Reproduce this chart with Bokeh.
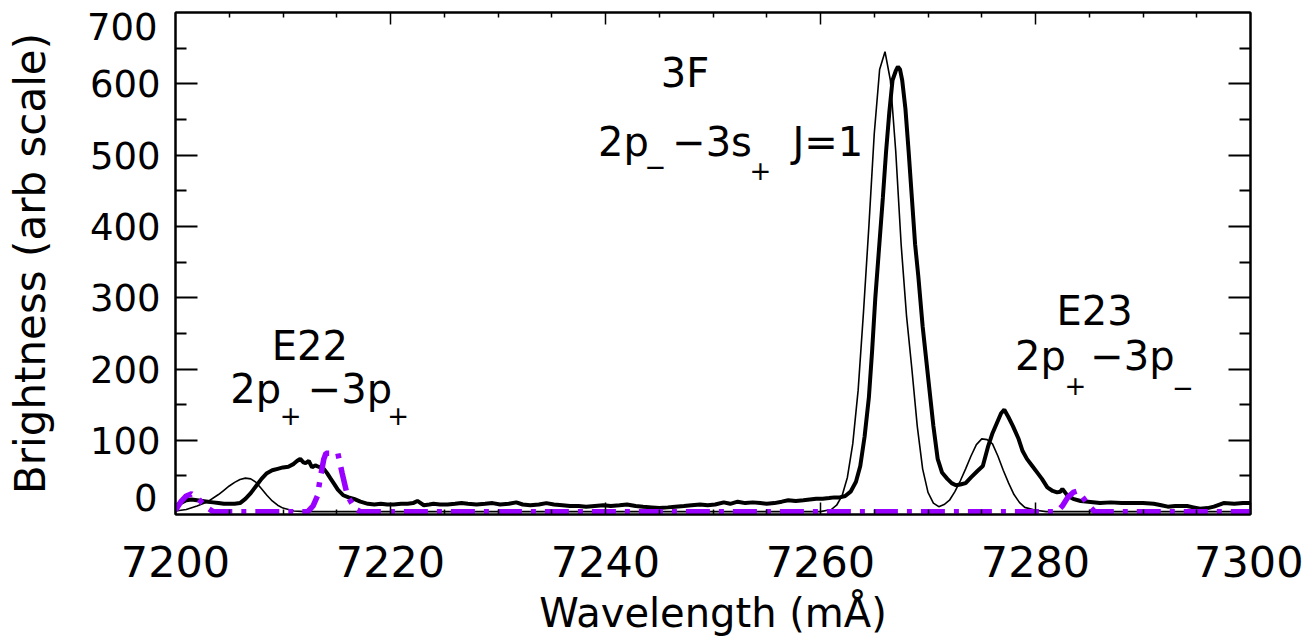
from bokeh.plotting import figure
from bokeh.models import LinearAxis, Label, FixedTicker, Range1d
from bokeh.embed import file_html
from bokeh.resources import INLINE

FONT = "DejaVu Sans"

# Measured spectrum (thick black line): (wavelength mA, brightness)
thick_pts = [
    (7200, 8), (7200.5, 12), (7201, 16), (7201.5, 17), (7202, 16), (7202.5, 15), (7203, 14),
    (7203.5, 13), (7204, 12), (7204.5, 11), (7205, 11), (7205.5, 11), (7206, 12), (7206.5, 18),
    (7207, 26), (7207.5, 36), (7208, 46), (7208.5, 54), (7209, 58), (7209.5, 60), (7210, 62),
    (7210.5, 63), (7211, 67), (7211.3, 71), (7211.6, 74), (7211.9, 69), (7212.1, 68), (7212.4, 71),
    (7212.7, 62), (7213, 65), (7213.3, 63), (7213.8, 60), (7214.1, 54), (7214.4, 47), (7214.8, 38),
    (7215.1, 31), (7215.6, 23), (7216.1, 20), (7216.6, 18), (7217.2, 14), (7217.9, 11), (7218.5, 10),
    (7219.1, 11), (7219.7, 10), (7220.3, 10), (7221, 11), (7221.6, 11), (7222.1, 12), (7222.5, 15),
    (7223.1, 9), (7223.6, 10), (7224, 11), (7224.6, 10), (7225.3, 10), (7226, 11), (7226.6, 12),
    (7227.2, 11), (7228, 10), (7228.8, 11), (7229.5, 12), (7230.2, 10), (7231, 11), (7231.7, 13),
    (7232.3, 10), (7233, 9), (7233.8, 10), (7234.5, 12), (7235.2, 10), (7236, 9), (7236.7, 8),
    (7237.5, 8), (7238.2, 7), (7239, 8), (7239.8, 9), (7240.5, 8), (7241.3, 9), (7242, 10),
    (7242.8, 8), (7243.5, 7), (7244.3, 6), (7245, 5), (7245.8, 6), (7246.5, 7), (7247.3, 8),
    (7248, 9), (7248.8, 10), (7249.5, 9), (7250.2, 10), (7251, 13), (7251.6, 11), (7252.3, 14),
    (7253, 12), (7253.7, 13), (7254.4, 12), (7255, 11), (7255.7, 12), (7256.4, 14), (7257, 16),
    (7257.7, 15), (7258.4, 16), (7259, 17), (7259.6, 18), (7260.2, 18), (7260.8, 19), (7261.3, 20),
    (7261.8, 20), (7262.3, 22), (7262.8, 28), (7263.3, 42), (7263.7, 64), (7264.1, 105), (7264.5, 160),
    (7264.8, 225), (7265.1, 300), (7265.5, 380), (7265.8, 440), (7266.1, 505), (7266.4, 560),
    (7266.7, 605), (7267.0, 618), (7267.2, 624), (7267.4, 620), (7267.6, 605), (7267.9, 565),
    (7268.2, 505), (7268.5, 440), (7268.8, 375), (7269.1, 330), (7269.5, 260), (7270.0, 190),
    (7270.5, 120), (7270.9, 74), (7271.3, 55), (7271.8, 46), (7272.2, 40), (7272.6, 37), (7273.0, 38),
    (7273.5, 40), (7274.0, 48), (7274.6, 57), (7275.1, 64), (7275.6, 92), (7276.0, 110), (7276.4, 124),
    (7276.8, 138), (7277.1, 143), (7277.5, 132), (7277.9, 120), (7278.4, 103), (7278.8, 85),
    (7279.2, 74), (7279.7, 64), (7280.2, 54), (7280.6, 46), (7281.1, 34), (7281.6, 29), (7282, 27),
    (7282.3, 28), (7282.5, 32), (7282.8, 26), (7283, 22), (7283.5, 18), (7284.2, 15), (7284.9, 14),
    (7286, 12), (7287, 13), (7288, 12), (7289.1, 12), (7290, 12), (7291, 11), (7291.7, 9),
    (7292.3, 7), (7293, 8), (7294.1, 8), (7294.7, 6), (7295.3, 4), (7296, 5), (7296.6, 7),
    (7297.5, 12), (7298.5, 11), (7299.3, 12), (7300, 12),
]

# Model spectrum (thin black line)
thin_pts = [
    (7200, 1), (7201, 3), (7202, 8), (7203, 14), (7204, 24), (7204.5, 30), (7205, 36), (7205.5, 41),
    (7206, 45), (7206.5, 47), (7207, 46), (7207.5, 41), (7208, 32), (7208.5, 23), (7209, 15),
    (7209.5, 9), (7210, 5), (7210.5, 3), (7211, 1), (7212, 0), (7260, 0), (7261, 3), (7261.5, 9),
    (7262, 22), (7262.5, 48), (7263, 95), (7263.5, 170), (7264, 280), (7264.5, 400), (7265, 530),
    (7265.5, 620), (7266, 645), (7266.5, 605), (7267, 505), (7267.5, 375), (7268, 275),
    (7268.5, 200), (7269, 120), (7269.5, 60), (7270, 27), (7270.5, 12), (7271, 7), (7271.5, 10),
    (7272, 16), (7272.5, 28), (7273, 43), (7273.5, 60), (7274, 78), (7274.5, 94), (7275, 102),
    (7275.5, 101), (7276, 95), (7276.5, 78), (7277, 58), (7277.5, 40), (7278, 24), (7278.5, 13),
    (7279, 6), (7280, 2), (7281, 0), (7300, 0),
]

# Purple dash-dot spectrum
purple_pts = [
    (7200, 2), (7200.5, 14), (7201, 22), (7201.5, 25), (7202, 20), (7202.5, 12), (7203, 5),
    (7203.5, 0), (7212.3, 0), (7212.8, 8), (7213.2, 22), (7213.5, 50), (7213.8, 74), (7214, 82),
    (7215.1, 82), (7215.5, 54), (7216, 22), (7216.7, 4), (7217.2, 0), (7282, 0), (7282.5, 8),
    (7283, 20), (7283.5, 27), (7283.9, 29), (7284.5, 18), (7285, 8), (7285.5, 0), (7300, 0),
]

# axes
x_range = (7200, 7300)
y_range = (-4, 700)
x_major = [7200, 7220, 7240, 7260, 7280, 7300]
x_minor = [v for v in range(7200, 7301, 5) if v % 20 != 0]
y_minor = [v for v in range(50, 700, 100)]
y_inner_major = [100, 200, 300, 400, 500, 600]
y_end_labels = [0, 700]

thick_x, thick_y = zip(*thick_pts)
thin_x, thin_y = zip(*thin_pts)
purple_x, purple_y = zip(*purple_pts)

p = figure(width=1303, height=638,
           x_range=Range1d(*x_range), y_range=Range1d(*y_range),
           output_backend="svg", toolbar_location=None,
           min_border_left=175, min_border_right=53, min_border_top=12, min_border_bottom=122)
p.grid.visible = False
p.outline_line_color = "black"
p.outline_line_width = 2
p.background_fill_color = "white"
p.border_fill_color = "white"

# bottom axis
xa = p.xaxis[0]
xa.ticker = FixedTicker(ticks=x_major, minor_ticks=x_minor)
xa.axis_label = "Wavelength (mÅ)"
xa.axis_line_width = 2
xa.major_tick_in = 12
xa.major_tick_out = 0
xa.minor_tick_in = 5
xa.minor_tick_out = 0
xa.major_tick_line_width = 1.5
xa.minor_tick_line_width = 1.5
xa.major_label_text_font = FONT
xa.major_label_text_font_size = "43px"
xa.major_label_text_color = "black"
xa.major_label_standoff = 31
xa.axis_label_text_font = FONT
xa.axis_label_text_font_size = "40px"
xa.axis_label_text_font_style = "normal"
xa.axis_label_text_color = "black"
xa.axis_label_standoff = 10

# left axis: ticks and inner labels
ya = p.yaxis[0]
ya.ticker = FixedTicker(ticks=y_inner_major, minor_ticks=y_minor)
ya.axis_line_width = 2
ya.major_tick_in = 22
ya.major_tick_out = 0
ya.minor_tick_in = 11
ya.minor_tick_out = 0
ya.major_tick_line_width = 2
ya.minor_tick_line_width = 2
ya.major_label_text_font = FONT
ya.major_label_text_font_size = "37px"
ya.major_label_text_color = "black"
ya.major_label_standoff = 15

# second left axis: the end labels 0 and 700, nudged inward, plus the axis title
p.extra_y_ranges = {"ends": Range1d(-25.16, 720.7)}
yb = LinearAxis(y_range_name="ends", ticker=FixedTicker(ticks=y_end_labels, minor_ticks=[]),
                axis_line_color=None, major_tick_line_color=None, minor_tick_line_color=None,
                major_tick_in=0, major_tick_out=0, minor_tick_in=0, minor_tick_out=0,
                major_label_text_font=FONT, major_label_text_font_size="37px",
                major_label_text_color="black", major_label_standoff=-71,
                axis_label="Brightness (arb scale)", axis_label_text_font=FONT,
                axis_label_text_font_size="42px", axis_label_text_font_style="normal",
                axis_label_text_color="black", axis_label_standoff=29)
p.add_layout(yb, "left")

# top mirror axis (long and short ticks)
top_long = LinearAxis(ticker=FixedTicker(ticks=[], minor_ticks=x_major[1:-1]),
                      major_tick_in=0, major_tick_out=0, minor_tick_in=12, minor_tick_out=0,
                      minor_tick_line_width=1.5, axis_line_width=2, major_label_standoff=0)
top_short = LinearAxis(ticker=FixedTicker(ticks=[], minor_ticks=x_minor),
                       major_tick_in=0, major_tick_out=0, minor_tick_in=5, minor_tick_out=0,
                       minor_tick_line_width=1.5, axis_line_color=None, major_label_standoff=0)
p.add_layout(top_long, "above")
p.add_layout(top_short, "above")

# right mirror axis
right_long = LinearAxis(ticker=FixedTicker(ticks=[], minor_ticks=y_inner_major),
                        major_tick_in=0, major_tick_out=0, minor_tick_in=22, minor_tick_out=0,
                        minor_tick_line_width=2, axis_line_width=2, major_label_standoff=0)
right_short = LinearAxis(ticker=FixedTicker(ticks=[], minor_ticks=y_minor),
                         major_tick_in=0, major_tick_out=0, minor_tick_in=11, minor_tick_out=0,
                         minor_tick_line_width=2, axis_line_color=None, major_label_standoff=0)
p.add_layout(right_long, "right")
p.add_layout(right_short, "right")

# curves
p.line(thin_x, thin_y, line_color="black", line_width=1.6)
p.line(thick_x, thick_y, line_color="black", line_width=4)
p.line(purple_x, purple_y, line_color="#9900ff", line_width=5.5, line_dash="24 9 5 9")

# annotations
def lab(x, y, t, size="40px", align="left", baseline="alphabetic"):
    p.add_layout(Label(x=x, y=y, text=t, text_align=align, text_baseline=baseline,
                       text_font=FONT, text_font_size=size, text_color="black"))

SUB = "26px"
lab(7247.4, 614.8, "3F", align="center")
lab(7239.3, 518.4, "2p")
lab(7244.65, 484.9, "−", size=SUB, align="center", baseline="middle")
lab(7246.2, 518.4, "−3s")
lab(7254.4, 479.3, "+", size=SUB, align="center", baseline="middle")
lab(7257.4, 518.4, "J=1")

lab(7212.5, 232.1, "E22", align="center")
lab(7205.1, 172.0, "2p")
lab(7210.7, 135.7, "+", size=SUB, align="center", baseline="middle")
lab(7212.3, 172.0, "−3p")
lab(7220.7, 135.7, "+", size=SUB, align="center", baseline="middle")

lab(7285.5, 281.0, "E23", align="center")
lab(7278.1, 218.1, "2p")
lab(7283.7, 177.6, "+", size=SUB, align="center", baseline="middle")
lab(7285.1, 218.1, "−3p")
lab(7293.7, 174.8, "−", size=SUB, align="center", baseline="middle")

open("out.html", "w").write(file_html(p, INLINE))
